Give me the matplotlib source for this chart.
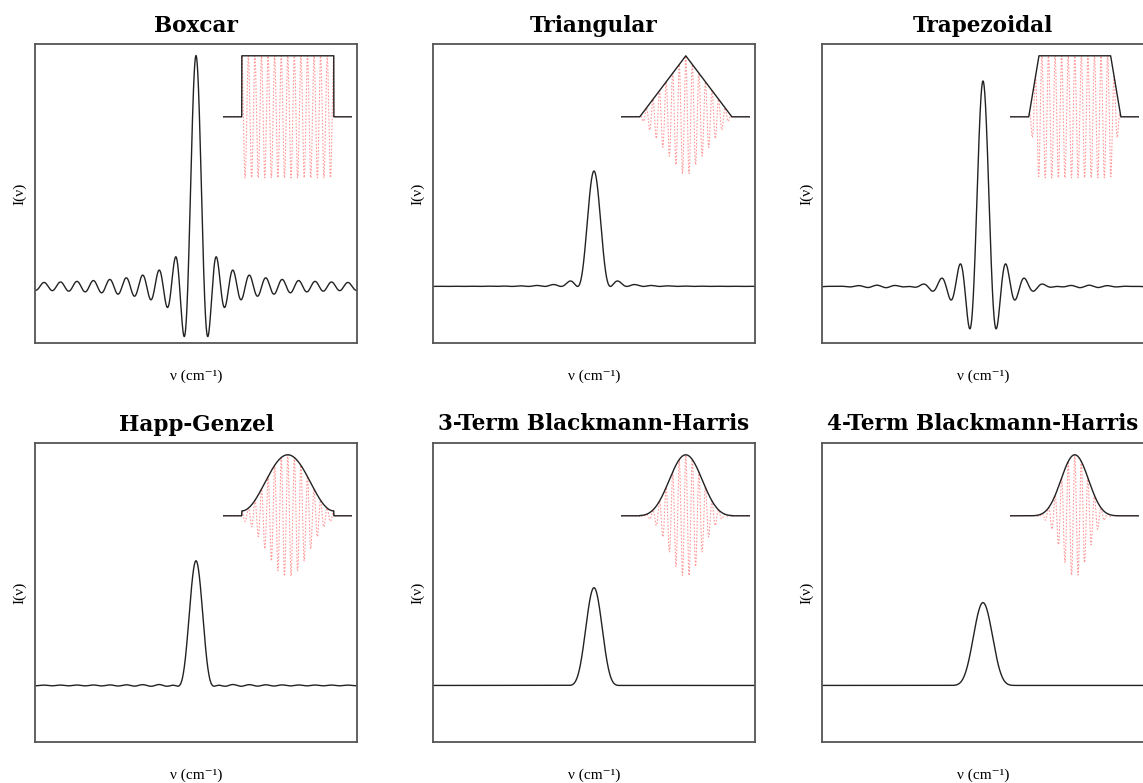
import numpy as np
import matplotlib.pyplot as plt

# Panel titles (row by row)
titles = ["Boxcar", "Triangular", "Trapezoidal",
          "Happ-Genzel", "3-Term Blackmann-Harris", "4-Term Blackmann-Harris"]

# Apodization parameters (OPD normalised to max retardation L = 1)
trap_flat = 0.78                             # half-width of trapezoid flat top
hg_coef = [0.54, 0.46]                       # Happ-Genzel cosine coefficients
bh3_coef = [0.42323, 0.49755, 0.07922]       # 3-term Blackmann-Harris
bh4_coef = [0.35875, 0.48829, 0.14128, 0.01168]  # 4-term Blackmann-Harris
fringes = 7                                  # interferogram cycles per unit OPD


def cos_series(x, coef):
    return sum(c * np.cos(k * np.pi * x) for k, c in enumerate(coef))


def apod(name, x):
    a = np.abs(x)
    inside = a <= 1
    if name == "Boxcar":
        y = np.ones_like(x)
    elif name == "Triangular":
        y = 1 - a
    elif name == "Trapezoidal":
        y = np.clip((1 - a) / (1 - trap_flat), 0, 1)
    elif name == "Happ-Genzel":
        y = cos_series(x, hg_coef)
    elif name.startswith("3-Term"):
        y = cos_series(x, bh3_coef)
    else:
        y = cos_series(x, bh4_coef)
    return np.where(inside, y, 0.0)


# OPD grid for integration and wavenumber axis
x_int = np.linspace(-1, 1, 4001)
nu = np.linspace(-9.8, 9.8, 1500)

fig = plt.figure(figsize=(11.43, 7.83), dpi=100)
W, H = 1143, 783
lefts = [35, 433, 822]
tops = [44, 443]
aw, ah = 322, 299

serif = ["Liberation Serif", "DejaVu Serif"]

for i, name in enumerate(titles):
    r, c = divmod(i, 3)
    ax = fig.add_axes([lefts[c] / W, 1 - (tops[r] + ah) / H, aw / W, ah / H])

    # instrument line shape = Fourier transform of the apodization function
    A = apod(name, x_int)
    ils = np.array([np.trapezoid(A * np.cos(2 * np.pi * v * x_int), x_int) / 2 for v in nu])
    ax.plot(nu, ils, color="#222222", lw=1.0)
    ax.set_xlim(nu[0], nu[-1])
    ax.set_ylim(-0.245, 1.05)
    ax.set_xticks([])
    ax.set_yticks([])
    for s in ax.spines.values():
        s.set_color("#555555")
        s.set_linewidth(1.3)
    ax.set_title(name, fontsize=15.5, fontweight="bold", family="DejaVu Serif", pad=9)
    ax.set_xlabel("ν (cm⁻¹)", fontsize=11, family=serif, labelpad=19)
    ax.set_ylabel("I(ν)", fontsize=11, family=serif, labelpad=6)

    # inset: apodization function and apodized interferogram
    ins = ax.inset_axes([0.585, 0.532, 0.40, 0.449])
    xs = np.linspace(-1.4, 1.4, 2000)
    env = apod(name, xs)
    ins.plot(xs, env * np.cos(2 * np.pi * fringes * xs), color="red", ls=(0, (1.5, 1.5)),
             lw=0.8, alpha=0.4)
    ins.plot(xs, env, color="#222222", lw=1.0)
    ins.set_xlim(-1.4, 1.4)
    ins.set_ylim(-1.1, 1.1)
    ins.axis("off")

fig.savefig("out.png", dpi=100)
